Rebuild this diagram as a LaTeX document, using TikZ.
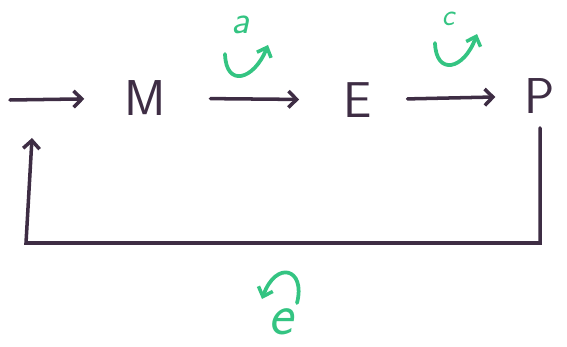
\documentclass[tikz,border=0pt]{standalone}
\usepackage{tikz}
\usetikzlibrary{positioning, arrows.meta}
\definecolor{ink}{RGB}{62,45,68}
\definecolor{pen}{RGB}{52,196,130}

\begin{document}
\begin{tikzpicture}[x=0.03cm, y=-0.03cm,
    letter/.style={text=ink, font=\sffamily\fontsize{43}{43}\selectfont, inner sep=0pt},
    glabel/.style={text=pen, font=\sffamily\itshape\fontsize{#1}{#1}\selectfont, inner sep=0pt},
    flow/.style={draw=ink, line width=3pt, line cap=round, -{Straight Barb[length=7pt, width=14pt, line width=3pt]}},
    turn/.style={draw=pen, line width=3.2pt, line cap=round, -{Straight Barb[length=7pt, width=13pt, line width=3pt]}}]

    \useasboundingbox (0,0) rectangle (567,347);

    \node [letter] (M) at (145,98) {M};
    \node [letter] (E) at (358,100) {E};
    \node [letter] (P) at (540,96) {P};
    \coordinate (in) at (10,100);
    \coordinate (br) at (540,243);
    \coordinate (bl) at (26,243);
    \coordinate (fb) at (32,138);

    \draw [flow, shorten >=34pt] (in) -- (M);
    \draw [flow, shorten <=38pt, shorten >=38pt] (M) -- (E);
    \draw [flow, shorten <=30pt, shorten >=25pt] (E) -- (P);

    % ritorno sotto
    \draw [flow, shorten <=12pt] (P) -- (br) -- (bl) -- (fb);

    % etichette verdi
    \node [glabel=34] (a) at (240,25) {a};
    \node [glabel=26] (c) at (448,19) {c};
    \node [glabel=50] (e) at (281,322) {e};

    \coordinate (a1) at (225,54);
    \coordinate (a2) at (268,45);
    \draw [turn] (a1) .. controls (226,88) and (254,80) .. (a2);
    \coordinate (c1) at (435,43);
    \coordinate (c2) at (477,34);
    \draw [turn] (c1) .. controls (436,76) and (464,70) .. (c2);
    \coordinate (e1) at (297,303);
    \coordinate (e2) at (262,299);
    \draw [turn] (e1) .. controls (306,268) and (276,260) .. (e2);

\end{tikzpicture}
\end{document}
